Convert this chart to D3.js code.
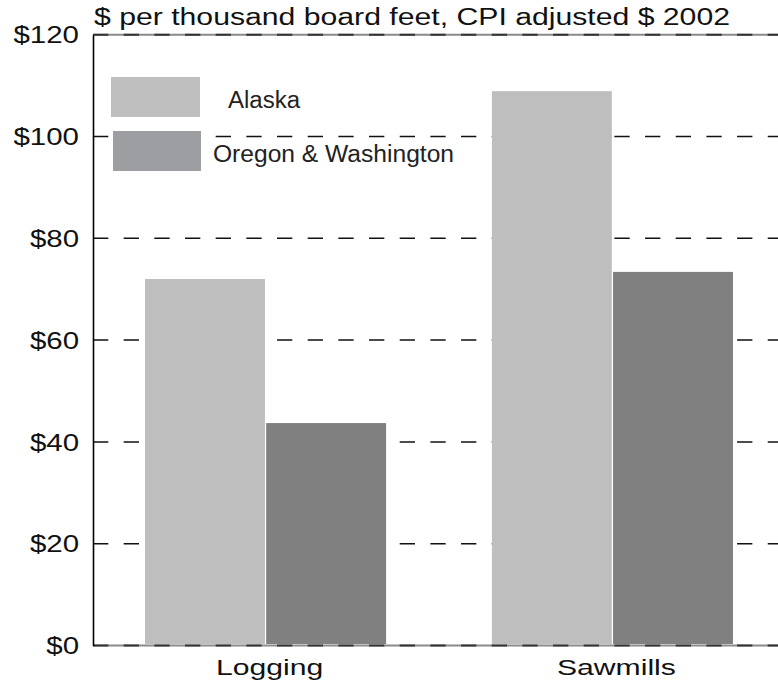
<!DOCTYPE html>
<html>
<head>
<meta charset="utf-8">
<script src="https://cdn.jsdelivr.net/npm/d3@7"></script>
<style>
  html, body { margin: 0; padding: 0; background: #fff; }
  svg { display: block; font-family: "Liberation Sans", Arial, sans-serif; }
</style>
</head>
<body>
<svg id="chart" width="778" height="681"></svg>
<script>
// ---- data ----
const categories = ["Logging", "Sawmills"];
const seriesNames = ["Alaska", "Oregon & Washington"];
const alaskaValues = [72.0, 108.9];
const oregonWashingtonValues = [43.7, 73.4];
const yTicks = [0, 20, 40, 60, 80, 100, 120];
const titleText = "$ per thousand board feet, CPI adjusted $ 2002";

// ---- layout ----
const svg = d3.select("#chart");
const barColors = ["#bebebe", "#808080"];
const legendColors = ["#bfbfbf", "#9c9ea1"];
const textColor = "#111";

const y = d3.scaleLinear().domain([0, 120]).range([645.5, 34.7]);
const x = d3.scaleBand().domain(categories).range([93, 785])
  .paddingInner(0.305).paddingOuter(0.15);
const xs = d3.scaleBand().domain(seriesNames).range([0, x.bandwidth()]).paddingInner(0.01);

const rows = categories.map((c, i) => ({ cat: c, vals: [alaskaValues[i], oregonWashingtonValues[i]] }));

// stretch helper: fonts in the reference are horizontally widened
function stretch(sel, factor) {
  sel.each(function () {
    const len = this.getComputedTextLength();
    d3.select(this).attr("textLength", len * factor).attr("lengthAdjust", "spacingAndGlyphs");
  });
}
function fitTo(sel, width) {
  sel.attr("textLength", width).attr("lengthAdjust", "spacingAndGlyphs");
}

// ---- gridlines ----
const grid = svg.append("g");
grid.selectAll("line.base").data([0, 120]).join("line")
  .attr("x1", 93).attr("x2", 778)
  .attr("y1", d => y(d)).attr("y2", d => y(d))
  .attr("stroke", "#8a8a8a").attr("stroke-width", 2);
grid.selectAll("line.dash").data(yTicks).join("line")
  .attr("x1", 93).attr("x2", 778)
  .attr("y1", d => y(d)).attr("y2", d => y(d))
  .attr("stroke", d => (d === 0 || d === 120) ? "#333" : "#111")
  .attr("stroke-width", d => (d === 0 || d === 120) ? 2 : 1.5)
  .attr("stroke-dasharray", "15.3,15.37");

// ---- bars ----
const groups = svg.append("g").selectAll("g").data(rows).join("g")
  .attr("transform", d => `translate(${x(d.cat)},0)`);
groups.selectAll("rect").data(d => d.vals.map((v, j) => ({ v, s: seriesNames[j], j }))).join("rect")
  .attr("x", d => xs(d.s))
  .attr("width", xs.bandwidth())
  .attr("y", d => y(d.v))
  .attr("height", d => y(0) - y(d.v) - 1.5)
  .attr("fill", d => barColors[d.j]);

// ---- y axis ----
const yAxis = svg.append("g").attr("transform", "translate(93,0)")
  .call(d3.axisLeft(y).tickValues(yTicks).tickSize(0).tickPadding(14).tickFormat(d => "$" + d));
yAxis.select(".domain").attr("stroke", "#000").attr("stroke-width", 1.6);
yAxis.selectAll("text")
  .attr("font-size", 23).attr("fill", textColor)
  .attr("dy", "0.36em")
  .call(stretch, 1.28);

// ---- x labels ----
svg.append("g").selectAll("text").data(categories).join("text")
  .attr("x", d => x(d) + x.bandwidth() / 2 + 4)
  .attr("y", 675)
  .attr("text-anchor", "middle")
  .attr("font-size", 22)
  .attr("fill", textColor)
  .text(d => d)
  .call(stretch, 1.37);

// ---- title ----
svg.append("text")
  .attr("x", 94).attr("y", 25)
  .attr("font-size", 23).attr("fill", textColor)
  .text(titleText)
  .call(fitTo, 636);

// ---- legend ----
const legendItems = [
  { name: seriesNames[0], rx: 111, ry: 77, rw: 89, rh: 40, tx: 228, ty: 108, tw: 72 },
  { name: seriesNames[1], rx: 113, ry: 131, rw: 88, rh: 40, tx: 213, ty: 162, tw: 241 }
];
const lg = svg.append("g").selectAll("g").data(legendItems).join("g");
lg.append("rect")
  .attr("x", d => d.rx).attr("y", d => d.ry)
  .attr("width", d => d.rw).attr("height", d => d.rh)
  .attr("fill", (d, i) => legendColors[i]);
lg.append("text")
  .attr("x", d => d.tx).attr("y", d => d.ty)
  .attr("font-size", 23).attr("fill", "#222")
  .text(d => d.name)
  .attr("textLength", d => d.tw).attr("lengthAdjust", "spacingAndGlyphs");
</script>
</body>
</html>
